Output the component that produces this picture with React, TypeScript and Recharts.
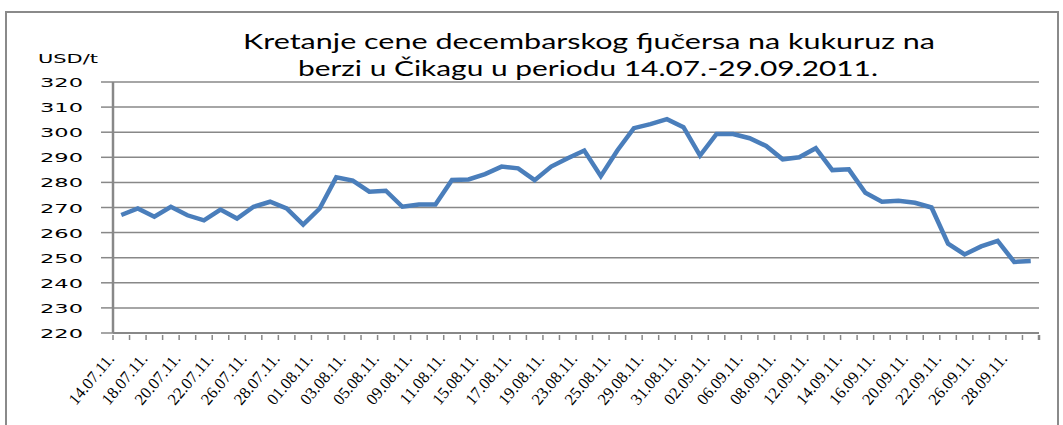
import React from 'react';
import { LineChart, Line, XAxis, YAxis, CartesianGrid } from 'recharts';

// trading days (labels shown on every second one)
const dates = [
  '14.07.11.', '15.07.11.', '18.07.11.', '19.07.11.', '20.07.11.', '21.07.11.', '22.07.11.', '25.07.11.',
  '26.07.11.', '27.07.11.', '28.07.11.', '29.07.11.', '01.08.11.', '02.08.11.', '03.08.11.', '04.08.11.',
  '05.08.11.', '08.08.11.', '09.08.11.', '10.08.11.', '11.08.11.', '12.08.11.', '15.08.11.', '16.08.11.',
  '17.08.11.', '18.08.11.', '19.08.11.', '22.08.11.', '23.08.11.', '24.08.11.', '25.08.11.', '26.08.11.',
  '29.08.11.', '30.08.11.', '31.08.11.', '01.09.11.', '02.09.11.', '05.09.11.', '06.09.11.', '07.09.11.',
  '08.09.11.', '09.09.11.', '12.09.11.', '13.09.11.', '14.09.11.', '15.09.11.', '16.09.11.', '19.09.11.',
  '20.09.11.', '21.09.11.', '22.09.11.', '23.09.11.', '26.09.11.', '27.09.11.', '28.09.11.', '29.09.11.',
];

// USD/t
const prices = [
  267, 269.6, 266.3, 270.3, 266.9, 264.9, 269.2, 265.6,
  270.3, 272.3, 269.6, 263.2, 269.6, 282, 280.7, 276.3,
  276.7, 270.3, 271.2, 271.2, 281, 281.2, 283.3, 286.3,
  285.6, 280.9, 286.3, 289.6, 292.7, 282.5, 292.7, 301.6,
  303.2, 305.2, 302, 290.7, 299.3, 299.3, 297.6, 294.5,
  289.2, 290, 293.6, 284.9, 285.2, 275.9, 272.3, 272.7,
  271.9, 270, 255.6, 251.3, 254.5, 256.7, 248.3, 248.7,
];

const yTicks = [220, 230, 240, 250, 260, 270, 280, 290, 300, 310, 320];

const data = dates.map((d, i) => ({ date: d, price: prices[i] }));

const GRID = '#888888';
const HALF = 8.27; // half a category width

const DateTick = (props: any) => {
  const { x, y, payload, index } = props;
  return (
    <g>
      <line x1={x - HALF} y1={y} x2={x - HALF} y2={y + 5} stroke={GRID} strokeWidth={1.5} />
      {index === dates.length - 1 && (
        <line x1={x + HALF} y1={y} x2={x + HALF} y2={y + 5} stroke={GRID} strokeWidth={2.5} />
      )}
      {index % 2 === 0 && (
        <text
          transform={`translate(${x - 6},${y + 24}) rotate(-50)`}
          textAnchor="end"
          fontFamily="'Liberation Serif', serif"
          fontSize={16.5}
          fill="#000"
        >
          {payload.value}
        </text>
      )}
    </g>
  );
};

const PriceTick = (props: any) => {
  const { x, y, payload } = props;
  return (
    <text x={x - 43} y={y + 5} textLength={43} lengthAdjust="spacingAndGlyphs" fontFamily="'DejaVu Sans', sans-serif" fontSize={13} fill="#000">
      {payload.value}
    </text>
  );
};

export default function App() {
  return (
    <div style={{ position: 'absolute', left: 0, top: 0, width: 1063, height: 425, background: '#fff', overflow: 'hidden' }}>
      <div style={{ position: 'absolute', left: 5, top: 11, width: 1050, height: 440, border: '2.5px solid #8a8a8a' }} />
      <svg width={1063} height={100} style={{ position: 'absolute', left: 0, top: 0 }}>
        <text x={243} y={49} textLength={692} lengthAdjust="spacingAndGlyphs" fontFamily="Lato, sans-serif" fontSize={22} fill="#000">
          Kretanje cene decembarskog fjučersa na kukuruz na
        </text>
        <text x={298} y={76} textLength={580} lengthAdjust="spacingAndGlyphs" fontFamily="Lato, sans-serif" fontSize={22} fill="#000">
          berzi u Čikagu u periodu 14.07.-29.09.2011.
        </text>
        <text x={38} y={63} textLength={60} lengthAdjust="spacingAndGlyphs" fontFamily="'DejaVu Sans', sans-serif" fontSize={13} fill="#000">
          USD/t
        </text>
      </svg>
      <div style={{ position: 'absolute', left: 0, top: 0 }}>
        <LineChart width={1063} height={425} data={data} margin={{ top: 82, right: 24, left: 0, bottom: 0 }}>
          <CartesianGrid vertical={false} stroke={GRID} strokeWidth={1.5} />
          <XAxis
            dataKey="date"
            interval={0}
            height={92}
            tickSize={0}
            tickLine={false}
            tick={<DateTick />}
            padding={{ left: HALF, right: HALF }}
            axisLine={{ stroke: GRID, strokeWidth: 2 }}
          />
          <YAxis
            domain={[220, 320]}
            ticks={yTicks}
            width={113}
            tickSize={12}
            tickMargin={18}
            tick={<PriceTick />}
            tickLine={{ stroke: GRID, strokeWidth: 1.5 }}
            axisLine={{ stroke: GRID, strokeWidth: 2.5 }}
          />
          <Line
            dataKey="price"
            type="linear"
            stroke="#4a7ebb"
            strokeWidth={4.5}
            dot={false}
            isAnimationActive={false}
          />
        </LineChart>
      </div>
    </div>
  );
}
